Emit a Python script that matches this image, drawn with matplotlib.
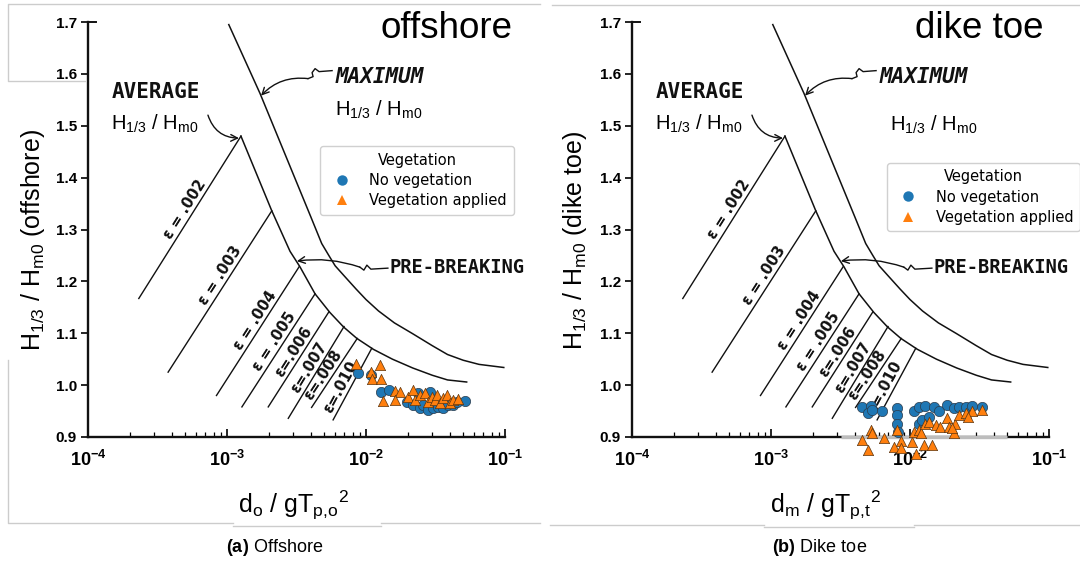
import numpy as np
import matplotlib
matplotlib.use('Agg')
import matplotlib.pyplot as plt
from matplotlib.lines import Line2D


plt.rcParams['font.family'] = ['Liberation Sans', 'DejaVu Sans']
plt.rcParams['mathtext.fontset'] = 'custom'
plt.rcParams['mathtext.rm'] = 'Liberation Sans'
plt.rcParams['mathtext.it'] = 'Liberation Sans:italic'
plt.rcParams['mathtext.bf'] = 'Liberation Sans:bold'

# Goda design curves (d/gT^2, H1/3/Hm0)
max_x = [1.03e-3, 1.73e-3, 4.0e-3, 4.8e-3, 5.4e-3, 6.0e-3, 7.0e-3, 8.5e-3,
         1.0e-2, 1.23e-2, 1.6e-2, 2.17e-2, 3.0e-2, 3.86e-2, 5.0e-2, 6.5e-2,
         9.8e-2]
max_y = [1.695, 1.562, 1.325, 1.273, 1.25, 1.23, 1.21, 1.185,
         1.165, 1.143, 1.12, 1.099, 1.076, 1.059, 1.048, 1.040,
         1.034]

avg_x = [1.26e-3, 2.1e-3, 2.84e-3, 3.35e-3, 4.3e-3, 5.5e-3, 6.9e-3, 8.6e-3,
         1.13e-2, 1.55e-2, 2.17e-2, 3.0e-2, 3.86e-2, 5.3e-2]
avg_y = [1.48, 1.336, 1.258, 1.228, 1.176, 1.140, 1.112, 1.090,
         1.069, 1.050, 1.033, 1.019, 1.010, 1.006]

# wave steepness lines, lower end -> end on the average curve
eps_labels = ['ε = .002', 'ε = .003', 'ε = .004', 'ε = .005',
              'ε=.006', 'ε=.007', 'ε=.008', 'ε=.010']
eps_x0 = [2.32e-4, 3.77e-4, 8.4e-4, 1.28e-3, 1.98e-3, 2.76e-3, 4.06e-3, 5.8e-3]
eps_y0 = [1.167, 1.025, 0.980, 0.958, 0.958, 0.936, 0.957, 0.933]
eps_x1 = [1.26e-3, 2.1e-3, 3.3e-3, 4.3e-3, 5.4e-3, 6.95e-3, 8.65e-3, 1.1e-2]
eps_y1 = [1.48, 1.336, 1.228, 1.176, 1.141, 1.113, 1.090, 1.071]
eps_t = [0.52, 0.57, 0.55, 0.54, 0.53, 0.51, 0.40, 0.40]

# offshore measurements
off_nv_x = [0.0088, 0.0109, 0.0129, 0.0147, 0.0196, 0.0219, 0.0245, 0.0258,
            0.0281, 0.0305, 0.0331, 0.036, 0.0391, 0.0425, 0.045, 0.0516,
            0.0238, 0.0289]
off_nv_y = [1.023, 1.020, 0.987, 0.991, 0.968, 0.962, 0.955, 0.962,
            0.952, 0.955, 0.958, 0.955, 0.962, 0.962, 0.968, 0.970,
            0.984, 0.987]
off_v_x = [0.00847, 0.0126, 0.0108, 0.011, 0.0128, 0.0133, 0.0162, 0.0176,
           0.0162, 0.0202, 0.0219, 0.0225, 0.0245, 0.0266, 0.0281, 0.0297,
           0.0313, 0.0323, 0.0341, 0.036, 0.0381, 0.0402, 0.0425, 0.0461]
off_v_y = [1.041, 1.039, 1.025, 1.011, 1.011, 0.970, 0.989, 0.987,
           0.971, 0.978, 0.991, 0.971, 0.981, 0.984, 0.968, 0.978,
           0.971, 0.981, 0.965, 0.975, 0.981, 0.965, 0.971, 0.973]

# dike toe measurements
toe_nv_x = [4.55e-3, 5.2e-3, 5.0e-3, 5.35e-3, 6.3e-3, 8.1e-3, 8.1e-3, 8.0e-3,
            8.2e-3, 0.0107, 0.0116, 0.0129, 0.0148, 0.0161, 0.0185, 0.0207,
            0.0225, 0.0251, 0.028, 0.033, 0.0116, 0.0123, 0.0137]
toe_nv_y = [0.958, 0.960, 0.946, 0.952, 0.951, 0.955, 0.942, 0.926,
            0.910, 0.951, 0.958, 0.960, 0.958, 0.951, 0.962, 0.955,
            0.958, 0.957, 0.960, 0.958, 0.926, 0.933, 0.939]
toe_v_x = [5.2e-3, 5.35e-3, 4.55e-3, 5.0e-3, 6.5e-3, 8.1e-3, 8.6e-3, 7.7e-3,
           8.6e-3, 0.0104, 0.011, 0.0107, 0.0116, 0.012, 0.0126, 0.0144,
           0.0129, 0.0137, 0.0153, 0.0165, 0.0185, 0.019, 0.0207, 0.0212,
           0.0225, 0.0251, 0.028, 0.033, 0.026, 0.0201]
toe_v_y = [0.913, 0.908, 0.895, 0.874, 0.899, 0.913, 0.893, 0.881,
           0.878, 0.891, 0.867, 0.910, 0.913, 0.907, 0.885, 0.885,
           0.926, 0.929, 0.923, 0.920, 0.936, 0.920, 0.907, 0.926,
           0.942, 0.946, 0.951, 0.953, 0.939, 0.917]

yticks = [0.9, 1.0, 1.1, 1.2, 1.3, 1.4, 1.5, 1.6, 1.7]
xticks = [1e-4, 1e-3, 1e-2, 1e-1]

BLUE = '#1f77b4'
ORANGE = '#ff7f0e'
INK = '#111111'


def shift(ax, x, y, dx, dy):
    X, Y = ax.transData.transform((x, y))
    return tuple(ax.transData.inverted().transform((X + dx, Y + dy)))


def draw_goda(ax, hmax_pos):
    ax.set_xscale('log')
    ax.set_xlim(1e-4, 1e-1)
    ax.set_ylim(0.9, 1.7)
    for side in ['top', 'right']:
        ax.spines[side].set_visible(False)
    for side in ['left', 'bottom']:
        ax.spines[side].set_linewidth(1.7)
        ax.spines[side].set_color(INK)

    ax.set_yticks(yticks)
    ax.set_yticklabels([f'{v:.1f}' for v in yticks], fontweight='bold',
                       fontsize=11)
    ax.set_xticks(xticks)
    ax.set_xticklabels([r'$\mathbf{10^{%d}}$' % int(np.log10(v))
                        for v in xticks], fontsize=13)
    ax.tick_params(axis='y', direction='out', length=5, width=1.2, pad=3)
    ax.tick_params(axis='x', which='major', direction='in', length=6,
                   width=1.2, pad=9)
    ax.tick_params(axis='x', which='minor', direction='in', length=3.5,
                   width=0.9)
    ax.plot([0, 0.018], [1, 1], transform=ax.transAxes, color=INK, lw=1.4,
            clip_on=False)

    ax.plot(max_x, max_y, color=INK, lw=1.1)
    ax.plot(avg_x, avg_y, color=INK, lw=1.1)

    for lab, x0, y0, x1, y1, t in zip(eps_labels, eps_x0, eps_y0,
                                       eps_x1, eps_y1, eps_t):
        ax.plot([x0, x1], [y0, y1], color=INK, lw=1.0)
        p0 = ax.transData.transform((x0, y0))
        p1 = ax.transData.transform((x1, y1))
        d = p1 - p0
        ang = np.degrees(np.arctan2(d[1], d[0]))
        nrm = np.array([-d[1], d[0]]) / np.hypot(*d)
        pc = p0 + t * d + 8.5 * nrm
        xc, yc = ax.transData.inverted().transform(pc)
        ax.text(xc, yc, lab, rotation=ang, rotation_mode='anchor',
                ha='center', va='center', fontsize=10.5,
                family='DejaVu Sans', fontweight='bold', color=INK)

    lbl = dict(family='DejaVu Sans Mono', fontweight='bold', color=INK)
    ax.text(3.1e-4, 1.565, 'AVERAGE', ha='center', va='center', fontsize=15,
            **lbl)
    ax.text(1.26e-2, 1.594, 'MAXIMUM', ha='center', va='center', fontsize=15,
            style='italic', **lbl)
    ax.text(4.55e-2, 1.226, 'PRE-BREAKING', ha='center', va='center',
            fontsize=13.5, **lbl)
    hh = r'$\mathregular{H_{1/3}\ /\ H_{m0}}$'
    ax.text(3.0e-4, 1.503, hh, ha='center', va='center', fontsize=14.5)
    ax.text(hmax_pos[0], hmax_pos[1], hh, ha='center', va='center',
            fontsize=14.5)

    # leader arrows
    arw = dict(arrowstyle='->', color=INK, lw=1.0, mutation_scale=12,
               shrinkA=0, shrinkB=0)
    tip = shift(ax, 1.73e-3, 1.56, 1, -1)
    pts = [shift(ax, *tip, dx, dy) for dx, dy in
           [(71, 25), (58, 24), (54, 27), (51, 23), (52, 19), (47, 17)]]
    ax.plot([p[0] for p in pts], [p[1] for p in pts], color=INK, lw=1.0)
    ax.annotate('', xy=tip, xytext=pts[-1],
                arrowprops=dict(connectionstyle='arc3,rad=0.25', **arw))

    tip = shift(ax, 1.26e-3, 1.48, -2, -2)
    ax.annotate('', xy=tip, xytext=shift(ax, *tip, -31, 23),
                arrowprops=dict(connectionstyle='arc3,rad=0.35', **arw))

    tip = shift(ax, 3.13e-3, 1.239, 1, 0)
    pts = [shift(ax, *tip, dx, dy) for dx, dy in
           [(91, -7), (74, -8), (70, -4), (67, -9), (63, -6)]]
    ax.plot([p[0] for p in pts], [p[1] for p in pts], color=INK, lw=1.0)
    ax.annotate('', xy=tip, xytext=pts[-1],
                arrowprops=dict(connectionstyle='arc3,rad=0.12', **arw))


def draw_points(ax, nv_x, nv_y, v_x, v_y):
    ax.scatter(nv_x, nv_y, s=55, marker='o', color=BLUE, edgecolor='#2b3a4a',
               linewidth=0.5, zorder=5, clip_on=False)
    ax.scatter(v_x, v_y, s=55, marker='^', color=ORANGE, edgecolor='#5a3510',
               linewidth=0.5, zorder=6, clip_on=False)


def add_legend(ax, anchor):
    handles = [
        Line2D([], [], marker='o', linestyle='None', markersize=7.5,
               markerfacecolor=BLUE, markeredgewidth=0, label='No vegetation'),
        Line2D([], [], marker='^', linestyle='None', markersize=7.5,
               markerfacecolor=ORANGE, markeredgewidth=0,
               label='Vegetation applied'),
    ]
    leg = ax.legend(handles=handles, title='Vegetation', loc='upper left',
                    bbox_to_anchor=anchor, frameon=True, framealpha=1,
                    edgecolor='#d0d0d0', fancybox=True,
                    prop={'family': 'DejaVu Sans', 'size': 10.5},
                    title_fontproperties={'family': 'DejaVu Sans',
                                          'size': 10.5},
                    borderpad=0.45, labelspacing=0.35, handletextpad=0.9)
    leg.set_zorder(4)
    return leg


fig = plt.figure(figsize=(10.8, 5.65), dpi=100)
ax1 = fig.add_axes([88 / 1080, 1 - 437 / 565, 417 / 1080, 415 / 565])
ax2 = fig.add_axes([632 / 1080, 1 - 437 / 565, 417 / 1080, 415 / 565])

draw_goda(ax1, (1.24e-2, 1.530))
draw_goda(ax2, (1.49e-2, 1.502))
draw_points(ax1, off_nv_x, off_nv_y, off_v_x, off_v_y)
draw_points(ax2, toe_nv_x, toe_nv_y, toe_v_x, toe_v_y)
add_legend(ax1, (0.540, 0.718))
add_legend(ax2, (0.594, 0.678))

# light axis band under the dike-toe points
ax2.plot([3.2e-3, 4.95e-2], [0.9, 0.9], color='#bdbdbd', lw=2.4, zorder=3,
         clip_on=False, solid_capstyle='butt')

fig.text(446 / 1080, 1 - 28 / 565, 'offshore', fontsize=26.5,
         ha='center', va='center')
fig.text(979 / 1080, 1 - 28 / 565, 'dike toe', fontsize=26.5,
         ha='center', va='center')

fig.text(33 / 1080, 1 - 240 / 565,
         r'$\mathregular{H_{1/3}\ /\ H_{m0}}$ (offshore)',
         rotation=90, fontsize=18, ha='center', va='center')
fig.text(575 / 1080, 1 - 240 / 565,
         r'$\mathregular{H_{1/3}\ /\ H_{m0}}$ (dike toe)',
         rotation=90, fontsize=18, ha='center', va='center')
fig.text(293 / 1080, 1 - 505 / 565,
         r'$\mathregular{d_o\ /\ gT_{p{,}o}{}^{2}}$',
         fontsize=18, ha='center', va='center')
fig.text(825 / 1080, 1 - 505 / 565,
         r'$\mathregular{d_m\ /\ gT_{p{,}t}{}^{2}}$',
         fontsize=18, ha='center', va='center')

fig.text(275 / 1080, 1 - 548 / 565, r'$\mathbf{(a)}$ Offshore', fontsize=13,
         ha='center', va='center')
fig.text(820 / 1080, 1 - 548 / 565, r'$\mathbf{(b)}$ Dike toe', fontsize=13,
         ha='center', va='center')

# thin grey panel borders
frame = [
    [(85, 81), (8, 81), (8, 4), (540, 4)],
    [(8, 360), (8, 523), (233, 523)],
    [(233, 526), (381, 526)],
    [(381, 523), (540, 523)],
    [(552, 5), (1080, 5)],
    [(550, 525), (764, 525)],
    [(764, 527), (914, 527)],
    [(914, 525), (1080, 525)],
]
for seg in frame:
    xs = [p[0] / 1080 for p in seg]
    ys = [1 - p[1] / 565 for p in seg]
    fig.add_artist(Line2D(xs, ys, transform=fig.transFigure,
                          color='#cccccc', lw=1.0))

fig.savefig('out.png', dpi=100)
